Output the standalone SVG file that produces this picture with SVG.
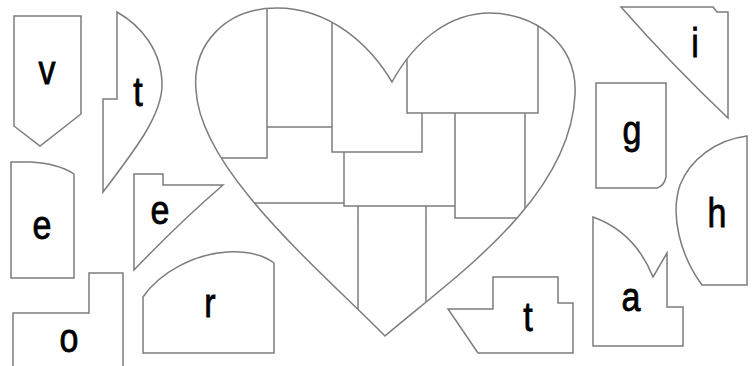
<svg xmlns="http://www.w3.org/2000/svg" width="755" height="366" viewBox="0 0 755 366">
<style>
.p{fill:#fff;stroke:#7c7c7c;stroke-width:1.5;stroke-linejoin:miter}
.l{fill:none;stroke:#7c7c7c;stroke-width:1.5}
.t{font-family:"Liberation Sans",Arial,sans-serif;font-size:34px;fill:#000;stroke:#000;stroke-width:0.7;text-anchor:middle}
</style>
<defs>
<clipPath id="hc"><path d="M392,82 C370,45 330,8 277,8 C225,8 192,45 196,90 C200,170 320,270 385,336 C450,280 570,200 575,95 C578,40 530,13 490,13 C450,13 415,40 392,82 Z"/></clipPath>
</defs>
<rect width="755" height="366" fill="#fff"/>
<g id="heart">
<path class="p" d="M392,82 C370,45 330,8 277,8 C225,8 192,45 196,90 C200,170 320,270 385,336 C450,280 570,200 575,95 C578,40 530,13 490,13 C450,13 415,40 392,82 Z"/>
<g clip-path="url(#hc)">
<path class="l" d="M267,0 V158 H200 M267,127 H332 M332,0 V152 H422 V113 M407,0 V113 H538 V0 M455,113 V218 H580 M525,113 V260 M344,152 V206 H455 M200,203 H344 M358,206 V340 M426,206 V340"/>
</g>
</g>
<g id="piece-v"><polygon class="p" points="14,16 81,16 81,114 40,146 14,126"/><g transform="translate(47,84) scale(1,1.2)"><text class="t" x="0" y="0">v</text></g></g>
<g id="piece-t1"><path class="p" d="M117,12 L117,99 L103,99 L103,192 C135,150 162,115 162,85 C162,50 140,25 117,12 Z"/><g transform="translate(138,106) scale(1,1.2)"><text class="t" x="0" y="0">t</text></g></g>
<g id="piece-e1"><path class="p" d="M11,162 L30,162 C50,163 65,168 74,174 L74,278 L11,278 Z"/><g transform="translate(42,239) scale(1,1.2)"><text class="t" x="0" y="0">e</text></g></g>
<g id="piece-o"><polygon class="p" points="13,313 89,313 89,273 123,273 123,370 13,370"/><g transform="translate(69,352) scale(1,1.2)"><text class="t" x="0" y="0">o</text></g></g>
<g id="piece-e2"><path class="p" d="M134,174 L163,174 L163,185 L223,185 Q180,222 134,270 Z"/><g transform="translate(160,224) scale(1,1.2)"><text class="t" x="0" y="0">e</text></g></g>
<g id="piece-r"><path class="p" d="M143,353 L274,353 L274,263 C262,254 245,251 227,252 C195,254 160,272 143,297 Z"/><g transform="translate(210,317) scale(1,1.2)"><text class="t" x="0" y="0">r</text></g></g>
<g id="piece-t2"><polygon class="p" points="448,309 493,309 493,277 558,277 558,303 573,303 573,353 478,353"/><g transform="translate(528,331) scale(1,1.2)"><text class="t" x="0" y="0">t</text></g></g>
<g id="piece-a"><path class="p" d="M593,217 Q635,232 653,277 L667,253 L667,307 L683,307 L683,346 L593,346 Z"/><g transform="translate(631,311) scale(1,1.2)"><text class="t" x="0" y="0">a</text></g></g>
<g id="piece-h"><path class="p" d="M747,136 L747,285 L702,285 C680,255 670,215 680,185 C690,160 715,140 747,136 Z"/><g transform="translate(717,227) scale(1,1.2)"><text class="t" x="0" y="0">h</text></g></g>
<g id="piece-g"><path class="p" d="M596,83 L666,83 L666,177 Q664,186 657,188 L596,188 Z"/><g transform="translate(632,144) scale(1,1.2)"><text class="t" x="0" y="0">g</text></g></g>
<g id="piece-i"><path class="p" d="M621,7 L713,7 L717,12 L728,12 L728,118 Q672,65 621,7 Z"/><g transform="translate(695,57) scale(1,1.2)"><text class="t" x="0" y="0">i</text></g></g>
</svg>
